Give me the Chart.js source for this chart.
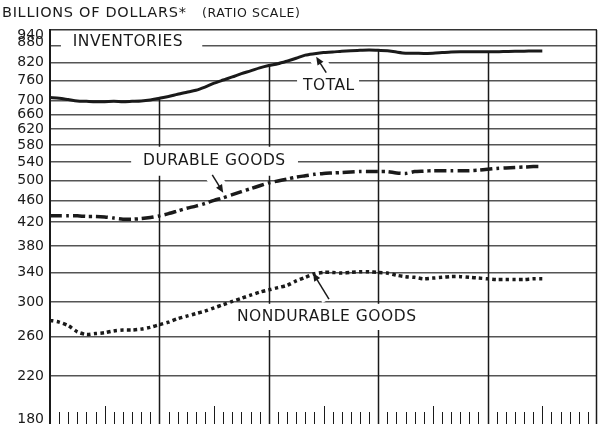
<!DOCTYPE html>
<html>
<head>
<meta charset="utf-8">
<script src="https://cdn.jsdelivr.net/npm/chart.js@4.4.0/dist/chart.umd.min.js"></script>
<style>
  html, body { margin: 0; padding: 0; background: #fff; }
</style>
</head>
<body>
<canvas id="inventories-chart" width="598" height="424"></canvas>
<script>
// Monthly inventories, billions of dollars (months 0..54)
const total = [708, 706, 702, 698, 697, 696, 696, 697, 696, 697, 698, 701, 706, 711, 718, 724, 730, 740, 752, 762,
    772, 783, 792, 802, 810, 816, 825, 835, 846, 851, 855, 857, 860, 862, 863, 864, 863, 862, 857, 853,
    853, 852, 853, 855, 857, 858, 858, 858, 858, 858, 859, 860, 860, 861, 861];
const durable = [431, 431, 431, 431, 430, 430, 429, 427, 425, 425, 426, 428, 431, 435, 440, 445, 449, 454, 460, 465,
    471, 477, 483, 489, 495, 499, 503, 507, 510, 513, 515, 516, 517, 518, 519, 519, 519, 519, 516, 515,
    519, 520, 521, 521, 521, 521, 521, 522, 524, 526, 527, 528, 529, 530, 530];
const nondurable = [278, 276, 272, 265, 262, 263, 264, 266, 267, 267, 268, 270, 273, 276, 280, 283, 286, 289, 293, 297,
    301, 305, 309, 313, 316, 319, 322, 328, 333, 338, 340, 340, 339, 340, 341, 341, 340, 339, 336, 334,
    333, 331, 332, 333, 334, 334, 333, 332, 331, 330, 330, 330, 330, 331, 331];

const yTicks = [180, 220, 260, 300, 340, 380, 420, 460, 500, 540, 580, 620, 660, 700, 760, 820, 880, 940];
const labelNudge = { 940: 5, 880: -3, 180: -5 }; // crowded / clipped labels sit off their lines
const fontFamily = '"DejaVu Sans", sans-serif';
const ink = '#1a1a1a';

// label boxes and arrows, in (month, value) coordinates
const notes = [
    { text: 'INVENTORIES', at: [2.5, 895], box: [1.2, 16.7, 918, 865] },
    { text: 'TOTAL', at: [27.75, 744], box: [27.1, 33.9, 768, 722], arrow: [[30.3, 786], [29.2, 840]] },
    { text: 'DURABLE GOODS', at: [10.2, 542], box: [8.9, 27.2, 576, 510], arrow: [[17.8, 512], [19.0, 475]] },
    { text: 'NONDURABLE GOODS', at: [20.5, 282], box: [19.7, 41.7, 298, 267], arrow: [[30.6, 304], [28.85, 339]] }
];

const toPoints = arr => arr.map((v, i) => ({ x: i, y: v }));

const decorations = {
    id: 'decorations',
    beforeDatasetsDraw(chart) {
        const { ctx, chartArea, scales: { x, y } } = chart;
        ctx.save();

        // year lines run from the bottom up to the total curve
        ctx.strokeStyle = ink;
        ctx.lineWidth = 1.5;
        [12, 24, 36, 48].forEach(m => {
            const px = Math.round(x.getPixelForValue(m)) + 0.5;
            ctx.beginPath();
            ctx.moveTo(px, chartArea.bottom);
            ctx.lineTo(px, y.getPixelForValue(total[m]));
            ctx.stroke();
        });

        // right frame
        ctx.beginPath();
        ctx.moveTo(chartArea.right - 0.5, chartArea.top);
        ctx.lineTo(chartArea.right - 0.5, chartArea.bottom);
        ctx.stroke();

        // monthly ticks along the bottom
        ctx.lineWidth = 1;
        for (let m = 1; m < 60; m++) {
            if (m % 12 === 0) continue;
            const px = Math.round(x.getPixelForValue(m)) + 0.5;
            const len = m % 6 === 0 ? 18 : 12;
            ctx.beginPath();
            ctx.moveTo(px, chartArea.bottom);
            ctx.lineTo(px, chartArea.bottom - len);
            ctx.stroke();
        }

        // white patches behind labels and arrows
        ctx.fillStyle = '#fff';
        ctx.strokeStyle = '#fff';
        notes.forEach(n => {
            const [x0, x1, v0, v1] = n.box;
            const l = x.getPixelForValue(x0), r = x.getPixelForValue(x1);
            const t = y.getPixelForValue(v0), b = y.getPixelForValue(v1);
            ctx.fillRect(l, t, r - l, b - t);
            if (n.arrow) {
                ctx.lineWidth = 15;
                ctx.beginPath();
                ctx.moveTo(x.getPixelForValue(n.arrow[0][0]), y.getPixelForValue(n.arrow[0][1]));
                ctx.lineTo(x.getPixelForValue(n.arrow[1][0]), y.getPixelForValue(n.arrow[1][1]));
                ctx.stroke();
            }
        });

        // label text and arrows
        ctx.fillStyle = ink;
        ctx.strokeStyle = ink;
        ctx.font = '15.5px ' + fontFamily;
        ctx.letterSpacing = '0.5px';
        ctx.textBaseline = 'middle';
        ctx.textAlign = 'left';
        notes.forEach(n => {
            ctx.fillText(n.text, x.getPixelForValue(n.at[0]), y.getPixelForValue(n.at[1]));
            if (n.arrow) {
                const x0 = x.getPixelForValue(n.arrow[0][0]), y0 = y.getPixelForValue(n.arrow[0][1]);
                const x1 = x.getPixelForValue(n.arrow[1][0]), y1 = y.getPixelForValue(n.arrow[1][1]);
                const ang = Math.atan2(y1 - y0, x1 - x0);
                ctx.lineWidth = 1.5;
                ctx.beginPath();
                ctx.moveTo(x0, y0);
                ctx.lineTo(x1 - 5 * Math.cos(ang), y1 - 5 * Math.sin(ang));
                ctx.stroke();
                ctx.beginPath();
                ctx.moveTo(x1, y1);
                ctx.lineTo(x1 - 8 * Math.cos(ang) + 3.5 * Math.sin(ang), y1 - 8 * Math.sin(ang) - 3.5 * Math.cos(ang));
                ctx.lineTo(x1 - 8 * Math.cos(ang) - 3.5 * Math.sin(ang), y1 - 8 * Math.sin(ang) + 3.5 * Math.cos(ang));
                ctx.closePath();
                ctx.fill();
            }
        });
        ctx.restore();
    },
    afterDraw(chart) {
        const { ctx, chartArea, scales: { y } } = chart;
        ctx.save();
        ctx.fillStyle = ink;
        ctx.textBaseline = 'middle';

        // axis values
        ctx.font = '14px ' + fontFamily;
        ctx.textAlign = 'right';
        yTicks.forEach(v => {
            ctx.fillText(String(v), chartArea.left - 6, y.getPixelForValue(v) + (labelNudge[v] || 0));
        });

        // heading
        ctx.textAlign = 'left';
        ctx.font = '14.5px ' + fontFamily;
        ctx.letterSpacing = '0.7px';
        ctx.fillText('BILLIONS OF DOLLARS*', 2, 13);
        ctx.font = '12.5px ' + fontFamily;
        ctx.letterSpacing = '0.6px';
        ctx.fillText('(RATIO SCALE)', 202, 13.5);
        ctx.restore();
    }
};

const ctx = document.getElementById('inventories-chart').getContext('2d');
new Chart(ctx, {
    type: 'line',
    data: {
        datasets: [
            { label: 'Total', data: toPoints(total), borderColor: ink, borderWidth: 3 },
            { label: 'Durable goods', data: toPoints(durable), borderColor: ink, borderWidth: 3.5, borderDash: [12, 4, 3, 4] },
            { label: 'Nondurable goods', data: toPoints(nondurable), borderColor: ink, borderWidth: 3.5, borderDash: [3.5, 3.2] }
        ]
    },
    options: {
        responsive: false,
        animation: false,
        layout: { padding: { left: 50, right: 1, top: 30, bottom: 0 } },
        elements: {
            point: { radius: 0 },
            line: { tension: 0.25, borderCapStyle: 'butt', fill: false }
        },
        plugins: {
            legend: { display: false },
            tooltip: { enabled: false }
        },
        scales: {
            x: { type: 'linear', min: 0, max: 60, display: false },
            y: {
                type: 'logarithmic',
                min: 180,
                max: 940,
                afterBuildTicks: scale => { scale.ticks = yTicks.map(v => ({ value: v })); },
                ticks: { display: false },
                grid: {
                    drawTicks: false,
                    lineWidth: 1.5,
                    color: c => (c.tick && c.tick.value === 180) ? 'rgba(0,0,0,0)' : (c.tick && c.tick.value === 940 ? '#333' : '#555')
                },
                border: { display: true, color: ink, width: 2 }
            }
        }
    },
    plugins: [decorations]
});
</script>
</body>
</html>
